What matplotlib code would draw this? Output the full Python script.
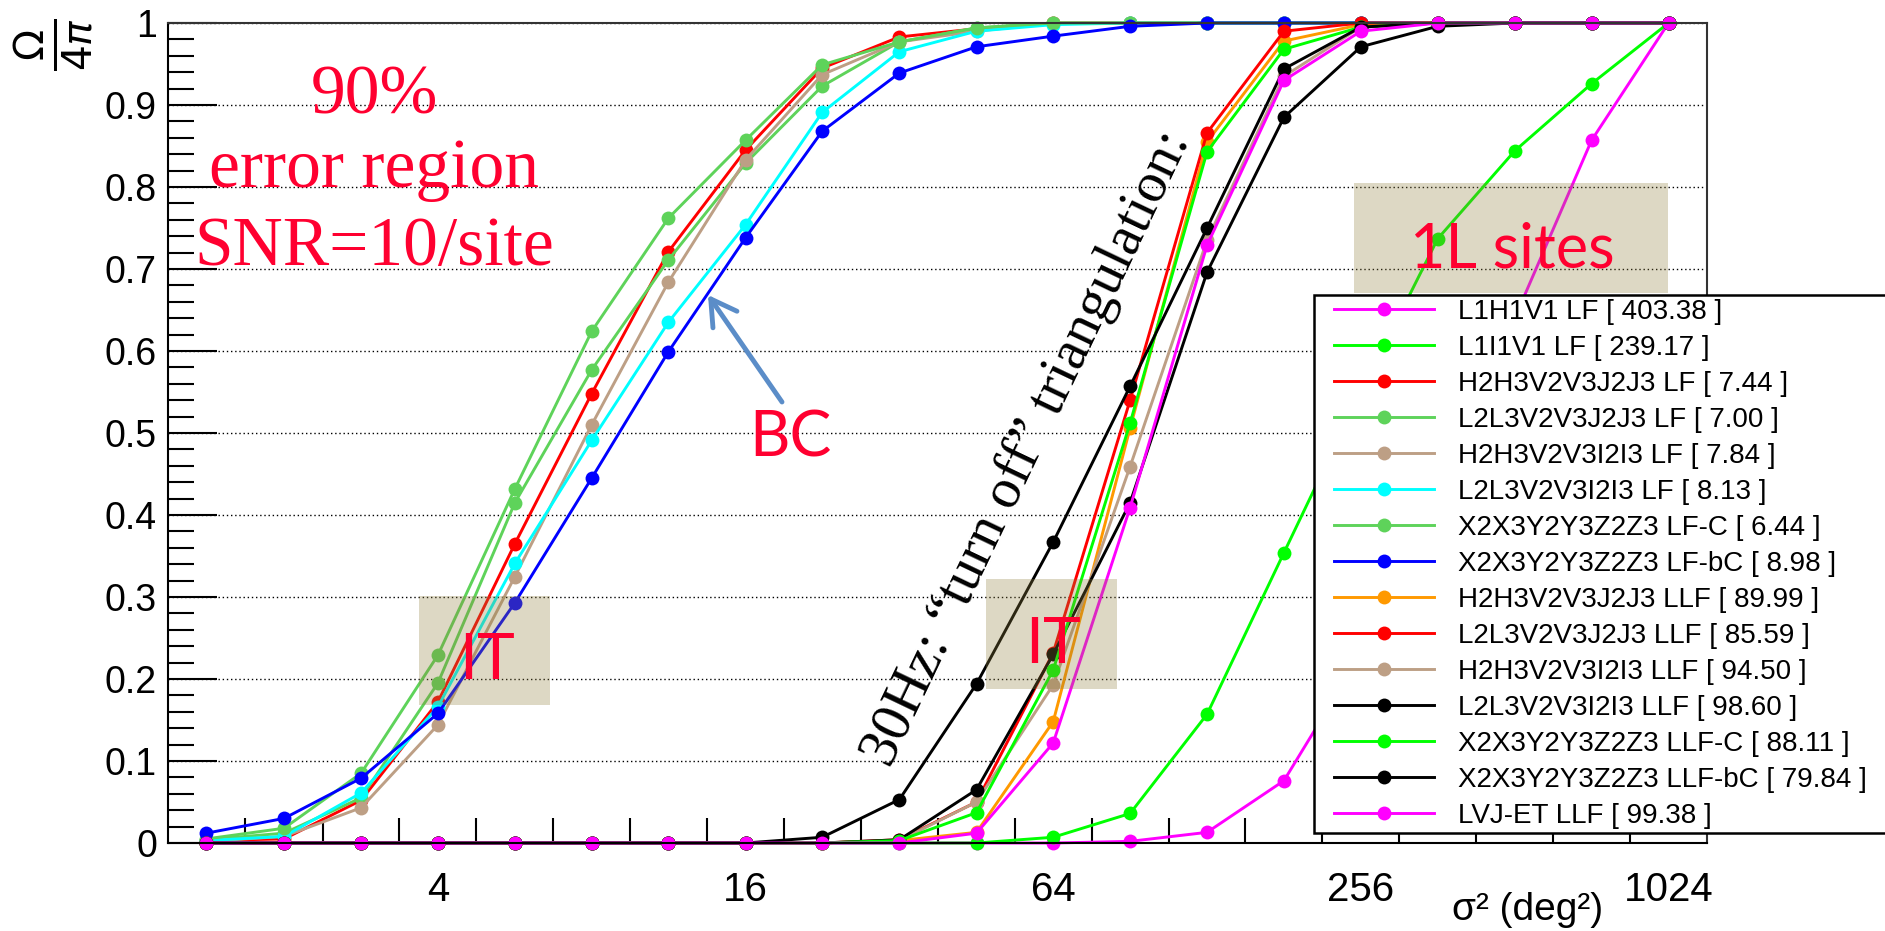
import numpy as np
import matplotlib
matplotlib.use("Agg")
import matplotlib.pyplot as plt
from matplotlib.patches import Rectangle, FancyArrowPatch
from matplotlib.ticker import FixedLocator, NullFormatter

plt.rcParams['font.family'] = ['Liberation Sans', 'DejaVu Sans']

W, H = 1885, 931

# sigma^2 bin centres (deg^2)
sigma2 = [1.41, 2, 2.83, 4, 5.66, 8, 11.3, 16, 22.6, 32,
          45.3, 64, 90.5, 128, 181, 256, 362, 512, 724, 1024]

xtick_values = [4, 16, 64, 256, 1024]
xtick_labels = ['4', '16', '64', '256', '1024']
yticks = [0, 0.1, 0.2, 0.3, 0.4, 0.5, 0.6, 0.7, 0.8, 0.9, 1.0]
ytick_labels = ['0', '0.1', '0.2', '0.3', '0.4', '0.5', '0.6', '0.7', '0.8', '0.9', '1']

labels = [
    'L1H1V1 LF [ 403.38 ]',
    'L1I1V1 LF [ 239.17 ]',
    'H2H3V2V3J2J3 LF [ 7.44 ]',
    'L2L3V2V3J2J3 LF [ 7.00 ]',
    'H2H3V2V3I2I3 LF [ 7.84 ]',
    'L2L3V2V3I2I3 LF [ 8.13 ]',
    'X2X3Y2Y3Z2Z3 LF-C [ 6.44 ]',
    'X2X3Y2Y3Z2Z3 LF-bC [ 8.98 ]',
    'H2H3V2V3J2J3 LLF [ 89.99 ]',
    'L2L3V2V3J2J3 LLF [ 85.59 ]',
    'H2H3V2V3I2I3 LLF [ 94.50 ]',
    'L2L3V2V3I2I3 LLF [ 98.60 ]',
    'X2X3Y2Y3Z2Z3 LLF-C [ 88.11 ]',
    'X2X3Y2Y3Z2Z3 LLF-bC [ 79.84 ]',
    'LVJ-ET LLF [ 99.38 ]',
]
colors = ['#ff00ff', '#00ff00', '#ff0000', '#5ed35a', '#bd9f85', '#00ffff',
          '#5ed35a', '#0000ff', '#ff9900', '#ff0000', '#bd9f85', '#000000',
          '#00ff00', '#000000', '#ff00ff']

l1h1v1_lf = [0, 0, 0, 0, 0, 0, 0, 0, 0, 0,
             0, 0, 0.002, 0.013, 0.076, 0.23, 0.43, 0.64, 0.857, 1.0]
l1i1v1_lf = [0, 0, 0, 0, 0, 0, 0, 0, 0, 0,
             0, 0.007, 0.036, 0.157, 0.354, 0.55, 0.737, 0.844, 0.926, 1.0]
h2h3_j_lf = [0.003, 0.005, 0.052, 0.172, 0.365, 0.548, 0.721, 0.845, 0.945, 0.983,
             0.993, 1, 1, 1, 1, 1, 1, 1, 1, 1]
l2l3_j_lf = [0.004, 0.012, 0.055, 0.195, 0.415, 0.577, 0.711, 0.829, 0.923, 0.977,
             0.994, 1, 1, 1, 1, 1, 1, 1, 1, 1]
h2h3_i_lf = [0.002, 0.008, 0.043, 0.144, 0.325, 0.510, 0.684, 0.833, 0.937, 0.977,
             0.99, 1, 1, 1, 1, 1, 1, 1, 1, 1]
l2l3_i_lf = [0.003, 0.008, 0.061, 0.166, 0.341, 0.491, 0.635, 0.754, 0.891, 0.965,
             0.99, 0.998, 1, 1, 1, 1, 1, 1, 1, 1]
xyz_lf_c = [0.005, 0.018, 0.085, 0.229, 0.432, 0.624, 0.762, 0.857, 0.949, 0.977,
            0.994, 1, 1, 1, 1, 1, 1, 1, 1, 1]
xyz_lf_bc = [0.012, 0.030, 0.079, 0.158, 0.293, 0.445, 0.599, 0.738, 0.868, 0.939,
             0.971, 0.984, 0.996, 1, 1, 1, 1, 1, 1, 1]
h2h3_j_llf = [0, 0, 0, 0, 0, 0, 0, 0, 0, 0.003,
              0.013, 0.148, 0.506, 0.855, 0.978, 0.998, 1, 1, 1, 1]
l2l3_j_llf = [0, 0, 0, 0, 0, 0, 0, 0, 0, 0.004,
              0.05, 0.232, 0.540, 0.866, 0.99, 1, 1, 1, 1, 1]
h2h3_i_llf = [0, 0, 0, 0, 0, 0, 0, 0, 0, 0.003,
              0.05, 0.193, 0.459, 0.735, 0.935, 0.995, 1, 1, 1, 1]
l2l3_i_llf = [0, 0, 0, 0, 0, 0, 0, 0, 0, 0.004,
              0.065, 0.23, 0.415, 0.696, 0.885, 0.971, 0.996, 1, 1, 1]
xyz_llf_c = [0, 0, 0, 0, 0, 0, 0, 0, 0, 0.003,
             0.037, 0.211, 0.512, 0.843, 0.968, 0.995, 1, 1, 1, 1]
xyz_llf_bc = [0, 0, 0, 0, 0, 0, 0, 0, 0.007, 0.053,
              0.194, 0.367, 0.557, 0.750, 0.944, 0.995, 1, 1, 1, 1]
lvj_et_llf = [0, 0, 0, 0, 0, 0, 0, 0, 0, 0,
              0.012, 0.122, 0.409, 0.729, 0.930, 0.99, 1, 1, 1, 1]

series = [l1h1v1_lf, l1i1v1_lf, h2h3_j_lf, l2l3_j_lf, h2h3_i_lf, l2l3_i_lf,
          xyz_lf_c, xyz_lf_bc, h2h3_j_llf, l2l3_j_llf, h2h3_i_llf, l2l3_i_llf,
          xyz_llf_c, xyz_llf_bc, lvj_et_llf]


def fp(x, y):
    # pixel position (from top-left) -> figure fraction
    return (x / W, 1 - y / H)


fig = plt.figure(figsize=(W / 100, H / 100), dpi=100)
ax = fig.add_axes([168 / W, 1 - 843 / H, 1539 / W, 820 / H])

lines = []
for vals, col, lab in zip(series, colors, labels):
    ln, = ax.plot(sigma2, vals, color=col, lw=2.1, marker='o', ms=10,
                  markeredgewidth=0, label=lab, clip_on=False, zorder=2)
    lines.append(ln)

ax.set_xscale('log', base=2)
logc = np.log2(sigma2)
ax.set_xlim(2 ** (logc[0] - 0.25), 2 ** (logc[-1] + 0.25))
ax.set_ylim(0, 1)

edges = 2 ** ((logc[:-1] + logc[1:]) / 2)
ax.set_xticks(xtick_values)
ax.set_xticklabels(xtick_labels)
ax.xaxis.set_minor_locator(FixedLocator(edges))
ax.xaxis.set_minor_formatter(NullFormatter())
ax.tick_params(axis='x', which='major', length=0, pad=20, labelsize=29)
ax.tick_params(axis='x', which='minor', direction='in', length=18, width=1.5)

ax.set_yticks(yticks)
ax.set_yticklabels(ytick_labels)
ax.yaxis.set_minor_locator(FixedLocator(np.arange(0, 1.001, 0.02)))
ax.tick_params(axis='y', which='major', direction='in', length=35, width=1.5,
               labelsize=27, pad=8)
ax.tick_params(axis='y', which='minor', direction='in', length=19, width=1.5)

ax.grid(axis='y', which='major', color='black', linestyle=(0, (1, 2)), linewidth=1.0)
ax.set_axisbelow(True)
for s in ax.spines.values():
    s.set_linewidth(1.5)
ax.spines['top'].set_color('#333333')
ax.spines['right'].set_color('#333333')

# axis titles
fig.text(*fp(54, 44), r'$\frac{\Omega}{4\pi}$', rotation=90, fontsize=42,
         ha='center', va='center')
fig.text(*fp(1528, 910), 'σ² (deg²)', fontsize=28, ha='center', va='center')

# legend with its own frame
fig.add_artist(Rectangle(fp(1314, 833), (1890 - 1314) / W, (833 - 295) / H,
                         transform=fig.transFigure, facecolor='white',
                         edgecolor='black', lw=1.8, zorder=4))
fig.legend(handles=lines, labels=labels, loc='upper left',
           bbox_to_anchor=fp(1334, 299), frameon=False, fontsize=20,
           handlelength=3.6, handletextpad=0.85, labelspacing=0.36,
           borderpad=0, borderaxespad=0, numpoints=1).set_zorder(5)

red = '#ff0030'
serif = ['Liberation Serif', 'DejaVu Serif']
sans = ['Lato', 'DejaVu Sans']

for txt, yb in [('90%', 113), ('error region', 187), ('SNR=10/site', 265)]:
    fig.text(*fp(374, yb), txt, color=red, fontsize=50, family=serif,
             ha='center', va='baseline')

# shaded boxes
for (x0, y0, x1, y1) in [(419, 596, 550, 705), (986, 579, 1117, 689), (1354, 183, 1668, 293)]:
    fig.add_artist(Rectangle(fp(x0, y1), (x1 - x0) / W, (y1 - y0) / H,
                             transform=fig.transFigure, facecolor='#8f7e3c',
                             alpha=0.3, lw=0, zorder=1))

fig.text(*fp(487, 679), 'IT', color=red, fontsize=46, family=sans,
         ha='center', va='baseline', zorder=2)
fig.text(*fp(1053, 663), 'IT', color=red, fontsize=46, family=sans,
         ha='center', va='baseline', zorder=2)
fig.text(*fp(1512, 268), '1L sites', color=red, fontsize=44, family=sans,
         ha='center', va='baseline', zorder=2)
fig.text(*fp(790, 457), 'BC', color=red, fontsize=45, family=sans,
         ha='center', va='baseline', zorder=2)

fig.add_artist(FancyArrowPatch(fp(782, 402), fp(708, 295), transform=fig.transFigure,
                               arrowstyle='->,head_length=0.6,head_width=0.35',
                               mutation_scale=30, lw=3.5, color='#5b8dc8',
                               shrinkA=0, shrinkB=0, zorder=2))

fig.text(*fp(1027, 448), '30Hz: “turn off” triangulation:', rotation=64.5,
         rotation_mode='anchor', ha='center', va='center', fontsize=41,
         family=serif, color='black', zorder=2)

fig.savefig('out.png', dpi=100)
